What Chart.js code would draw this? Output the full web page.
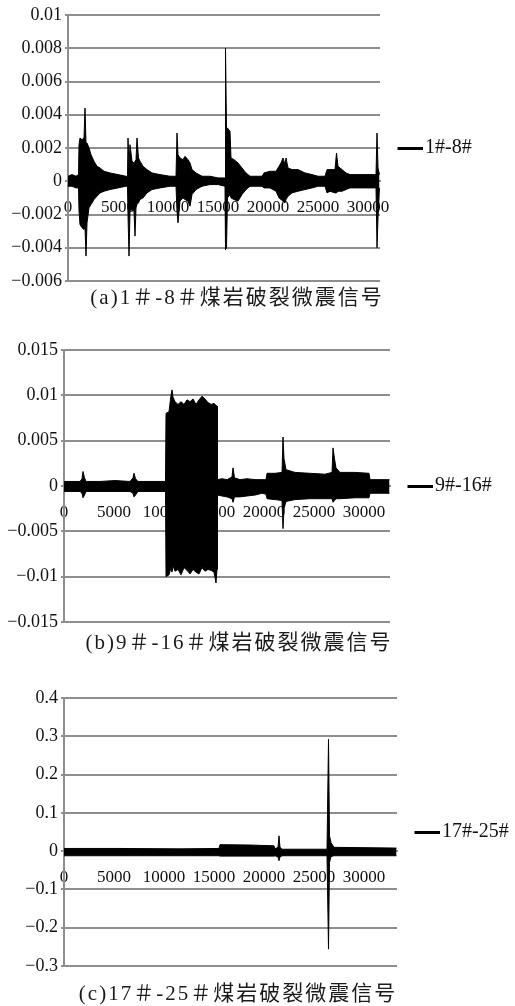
<!DOCTYPE html>
<html>
<head>
<meta charset="utf-8">
<script src="https://cdn.jsdelivr.net/npm/chart.js@4/dist/chart.umd.min.js"></script>
<style>
  html, body { margin: 0; padding: 0; background: #fff; }
  body { width: 515px; height: 1006px; position: relative; overflow: hidden; }
  canvas { position: absolute; left: 0; }
  .cap {
    position: absolute; width: 400px; text-align: center; white-space: nowrap;
    font: 21px "Liberation Serif", "Noto Sans CJK SC", serif;
    letter-spacing: 2px; line-height: 24px; color: #1a1a1a;
  }
</style>
</head>
<body>
<canvas id="panelA" width="515" height="300" style="top:0px"></canvas>
<div class="cap" style="left:37px; top:285px">(a)1＃-8＃煤岩破裂微震信号</div>
<canvas id="panelB" width="515" height="315" style="top:325px"></canvas>
<div class="cap" style="left:39px; top:630px">(b)9＃-16＃煤岩破裂微震信号</div>
<canvas id="panelC" width="515" height="310" style="top:675px"></canvas>
<div class="cap" style="left:38px; top:981px">(c)17＃-25＃煤岩破裂微震信号</div>

<script>
// Sample index ticks shared by all three records
const xTicks = [0, 5000, 10000, 15000, 20000, 25000, 30000];

// Amplitude ticks of each record
const yTicksA = [-0.006, -0.004, -0.002, 0, 0.002, 0.004, 0.006, 0.008, 0.01];
const yTicksB = [-0.015, -0.01, -0.005, 0, 0.005, 0.01, 0.015];
const yTicksC = [-0.3, -0.2, -0.1, 0, 0.1, 0.2, 0.3, 0.4];

// Series names
const seriesA = '1#-8#';
const seriesB = '9#-16#';
const seriesC = '17#-25#';

// Signal envelopes: [sample index, upper amplitude, lower amplitude]
const envelopeA = [
  [0, 0.0003, -0.0003], [400, 0.0004, -0.0003], [800, 0.0003, -0.0004], [1050, 0.0004, -0.0004],
  [1100, 0.0022, -0.0018], [1200, 0.0026, -0.0026], [1400, 0.0025, -0.0028], [1600, 0.0026, -0.0029],
  [1700, 0.0044, -0.0028], [1800, 0.0023, -0.0045], [1900, 0.0023, -0.0025], [2100, 0.0020, -0.0016],
  [2300, 0.0016, -0.0014], [2600, 0.0012, -0.0011], [2900, 0.0009, -0.0009], [3200, 0.0008, -0.0007],
  [3600, 0.0006, -0.0006], [4200, 0.0005, -0.0005], [5000, 0.0004, -0.0004], [5800, 0.0003, -0.0003],
  [5950, 0.0003, -0.0003], [6000, 0.0026, -0.0020], [6100, 0.0010, -0.0045], [6200, 0.0022, -0.0018],
  [6400, 0.0012, -0.0017], [6600, 0.0011, -0.0018], [6700, 0.0012, -0.0033], [6800, 0.0013, -0.0016],
  [6900, 0.0026, -0.0014], [7050, 0.0014, -0.0013], [7200, 0.0012, -0.0011], [7500, 0.0009, -0.0010],
  [7900, 0.0007, -0.0007], [8400, 0.0005, -0.0005], [9200, 0.0004, -0.0004], [10200, 0.0003, -0.0003],
  [10800, 0.0003, -0.0003], [10900, 0.0029, -0.0018], [11000, 0.0016, -0.0025], [11200, 0.0014, -0.0012],
  [11500, 0.0013, -0.0010], [11700, 0.0015, -0.0011], [12000, 0.0013, -0.0012], [12200, 0.0011, -0.0015],
  [12400, 0.0007, -0.0008], [12800, 0.0005, -0.0005], [13400, 0.0003, -0.0003], [14200, 0.0003, -0.0002],
  [15000, 0.0002, -0.0002], [15700, 0.0002, -0.0003], [15750, 0.0080, -0.0041], [15850, 0.0032, -0.0040],
  [15950, 0.0032, -0.0010], [16200, 0.0030, -0.0008], [16300, 0.0014, -0.0010], [16600, 0.0013, -0.0011],
  [17000, 0.0011, -0.0012], [17400, 0.0008, -0.0008], [17800, 0.0005, -0.0005], [18200, 0.0003, -0.0003],
  [18800, 0.0003, -0.0003], [19400, 0.0003, -0.0003], [19600, 0.0005, -0.0004], [20200, 0.0006, -0.0004],
  [20800, 0.0006, -0.0006], [21100, 0.0009, -0.0010], [21300, 0.0011, -0.0011], [21500, 0.0014, -0.0012],
  [21700, 0.0010, -0.0013], [21800, 0.0014, -0.0011], [22000, 0.0008, -0.0009], [22400, 0.0007, -0.0007],
  [23000, 0.0007, -0.0006], [23700, 0.0005, -0.0005], [24400, 0.0004, -0.0004], [25000, 0.0003, -0.0003],
  [25700, 0.0003, -0.0003], [25900, 0.0007, -0.0007], [26200, 0.0007, -0.0006], [26700, 0.0007, -0.0007],
  [26850, 0.0017, -0.0007], [27000, 0.0009, -0.0006], [27400, 0.0007, -0.0006], [27800, 0.0005, -0.0005],
  [28200, 0.0004, -0.0004], [29700, 0.0004, -0.0004], [30800, 0.0004, -0.0004], [30900, 0.0029, -0.0040],
  [31000, 0.0008, -0.0022], [31150, 0.0004, -0.0004]
];

const envelopeB = [
  [0, 0.0005, -0.0006], [600, 0.0005, -0.0006], [1600, 0.0005, -0.0006], [1800, 0.0008, -0.0008],
  [1900, 0.0016, -0.0013], [2050, 0.0009, -0.0010], [2200, 0.0005, -0.0006], [3600, 0.0005, -0.0006],
  [5100, 0.0006, -0.0006], [6600, 0.0005, -0.0006], [6900, 0.0009, -0.0008], [7000, 0.0014, -0.0012],
  [7150, 0.0008, -0.0010], [7400, 0.0005, -0.0006], [8600, 0.0005, -0.0006], [10150, 0.0005, -0.0006],
  [10200, 0.0080, -0.0100], [10500, 0.0082, -0.0098], [10700, 0.0100, -0.0090], [10800, 0.0106, -0.0095],
  [10900, 0.0098, -0.0088], [11100, 0.0093, -0.0094], [11400, 0.0090, -0.0092], [11700, 0.0093, -0.0098],
  [12000, 0.0090, -0.0090], [12300, 0.0095, -0.0093], [12600, 0.0093, -0.0097], [12900, 0.0096, -0.0092],
  [13200, 0.0090, -0.0095], [13500, 0.0095, -0.0097], [13800, 0.0099, -0.0090], [14100, 0.0096, -0.0094],
  [14400, 0.0092, -0.0092], [14700, 0.0090, -0.0093], [15000, 0.0091, -0.0095], [15200, 0.0089, -0.0107],
  [15300, 0.0088, -0.0092], [15350, 0.0007, -0.0010], [15800, 0.0008, -0.0011], [16300, 0.0007, -0.0012],
  [16800, 0.0010, -0.0014], [16900, 0.0020, -0.0018], [17050, 0.0009, -0.0012], [17600, 0.0007, -0.0012],
  [18300, 0.0008, -0.0011], [19100, 0.0007, -0.0010], [19800, 0.0007, -0.0008], [20200, 0.0007, -0.0009],
  [20300, 0.0014, -0.0014], [21100, 0.0014, -0.0015], [21800, 0.0015, -0.0016], [21900, 0.0054, -0.0047],
  [22000, 0.0030, -0.0025], [22200, 0.0018, -0.0017], [23100, 0.0015, -0.0015], [24600, 0.0014, -0.0014],
  [26100, 0.0013, -0.0014], [26800, 0.0015, -0.0014], [26900, 0.0042, -0.0018], [27050, 0.0030, -0.0016],
  [27200, 0.0020, -0.0014], [27600, 0.0015, -0.0014], [29100, 0.0015, -0.0013], [30500, 0.0014, -0.0013],
  [30600, 0.0007, -0.0008], [31600, 0.0007, -0.0008], [32550, 0.0007, -0.0008]
];

const envelopeC = [
  [0, 0.007, -0.012], [5600, 0.007, -0.012], [11600, 0.006, -0.012], [15500, 0.007, -0.012],
  [15600, 0.017, -0.013], [18600, 0.016, -0.013], [21000, 0.014, -0.013], [21100, 0.006, -0.012],
  [21400, 0.010, -0.015], [21500, 0.040, -0.025], [21600, 0.010, -0.015], [21800, 0.005, -0.012],
  [26300, 0.005, -0.012], [26450, 0.292, -0.256], [26550, 0.040, -0.030], [26700, 0.022, -0.014],
  [27000, 0.010, -0.012], [33250, 0.008, -0.012]
];

const GRID = '#8e8e8e';
const INK = '#111';
const NUM_FONT = '"Liberation Serif"';

function amplitudeLabel(v) {
  return parseFloat(Number(v).toFixed(4)).toString().replace('-', '\u2212');
}

// One stacked record: filled envelope, zero-crossing sample axis, legend on the right
function drawRecord(id, envelope, yTicks, xMax, name, area) {
  const canvas = document.getElementById(id);
  const W = canvas.width, H = canvas.height;
  const legendSize = 20, legendPad = 18, markerSlot = 17;

  const meas = document.createElement('canvas').getContext('2d');
  meas.font = legendSize + 'px ' + NUM_FONT;
  const legendWidth = legendPad + markerSlot + legendSize / 2 + meas.measureText(name).width + 10;

  // legend marker: short thick black stroke
  const marker = document.createElement('canvas');
  marker.width = 32; marker.height = 4;
  const g = marker.getContext('2d');
  g.fillStyle = '#000';
  g.fillRect(7, 1, 25, 3);

  const line = (key) => envelope.map(r => ({ x: r[0], y: r[key] }));

  new Chart(canvas, {
    type: 'line',
    data: {
      datasets: [
        { label: name, data: line(1), borderColor: '#000', backgroundColor: '#000',
          borderWidth: 1, pointRadius: 0, tension: 0, fill: '+1' },
        { label: name, data: line(2), borderColor: '#000', backgroundColor: '#000',
          borderWidth: 1, pointRadius: 0, tension: 0, fill: false }
      ]
    },
    options: {
      responsive: false,
      animation: false,
      devicePixelRatio: 1,
      events: [],
      layout: {
        padding: { left: 0, top: area.T, bottom: H - area.B, right: W - area.R - legendWidth }
      },
      scales: {
        x: {
          type: 'linear', min: 0, max: xMax,
          position: { y: 0 },
          afterBuildTicks: s => { s.ticks = xTicks.map(v => ({ value: v })); },
          grid: { display: false, drawTicks: true, tickLength: 8 },
          border: { display: true, color: GRID, width: 2 },
          ticks: {
            padding: 8, autoSkip: false, maxRotation: 0, minRotation: 0, color: INK,
            font: { family: NUM_FONT, size: 17 },
            callback: v => String(v)
          }
        },
        y: {
          type: 'linear', min: yTicks[0], max: yTicks[yTicks.length - 1],
          afterBuildTicks: s => { s.ticks = yTicks.map(v => ({ value: v })); },
          afterFit: s => { s.width = area.L; },
          grid: { color: GRID, lineWidth: 2, drawTicks: true, tickLength: 3 },
          border: { display: true, color: GRID, width: 2 },
          ticks: {
            padding: 3, color: INK,
            font: { family: NUM_FONT, size: 18 },
            callback: v => amplitudeLabel(v)
          }
        }
      },
      plugins: {
        tooltip: { enabled: false },
        legend: {
          position: 'right', align: 'center', fullSize: false,
          labels: {
            usePointStyle: true, pointStyle: marker, pointStyleWidth: markerSlot,
            padding: legendPad, color: INK,
            font: { family: NUM_FONT, size: legendSize },
            filter: item => item.datasetIndex === 0
          }
        }
      }
    }
  });
}

drawRecord('panelA', envelopeA, yTicksA, 31200, seriesA, { L: 68, T: 15, R: 380, B: 281 });
drawRecord('panelB', envelopeB, yTicksB, 32600, seriesB, { L: 64, T: 25, R: 390, B: 297 });
drawRecord('panelC', envelopeC, yTicksC, 33300, seriesC, { L: 64, T: 23, R: 397, B: 291 });
</script>
</body>
</html>
